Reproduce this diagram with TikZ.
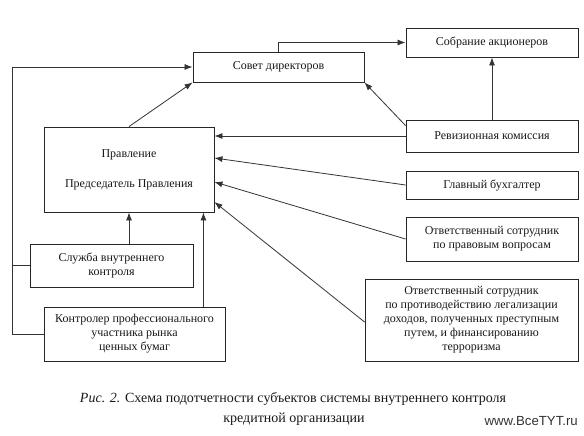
\documentclass[tikz,border=0pt]{standalone}
\usepackage{fontspec}
\setmainfont{Liberation Serif}
\newfontfamily\wmfont{Liberation Sans}
\usetikzlibrary{arrows.meta,calc}
\begin{document}
\begin{tikzpicture}[x=1pt,y=-1pt,
  box/.style={draw=black!85,line width=0.9pt,rectangle,inner sep=0pt,align=center,
     font=\fontsize{12}{14}\selectfont,text=black!90},
  conn/.style={draw=black!80,line width=0.8pt},
  arr/.style={conn,-{Latex[length=8pt,width=6pt]}},
  captext/.style={font=\fontsize{14}{16}\selectfont,text=black!90,inner sep=0pt}]
\useasboundingbox[fill=white] (0,0) rectangle (584,436);
% boxes
\node[box,minimum width=171pt,minimum height=30pt] (sovet) at (278.5,67) {Совет директоров};
\node[box,minimum width=172pt,minimum height=29pt] (sobr) at (492,42.5) {Собрание акционеров};
\node[box,minimum width=170pt,minimum height=85pt] (prav) at (129,169.5) {Правление\\[16pt]Председатель Правления};
\node[box,minimum width=172pt,minimum height=32pt] (reviz) at (492,136) {Ревизионная комиссия};
\node[box,minimum width=172pt,minimum height=28pt] (glav) at (492,185) {Главный бухгалтер};
\node[box,minimum width=172pt,minimum height=44pt] (pravov) at (492,239) {Ответственный сотрудник\\по правовым вопросам};
\node[box,minimum width=213pt,minimum height=82pt] (big) at (471.5,320) {Ответственный сотрудник\\по противодействию легализации\\доходов, полученных преступным\\путем, и финансированию\\терроризма};
\node[box,minimum width=163pt,minimum height=43pt] (sluzh) at (111.5,265.5) {Служба внутреннего\\контроля};
\node[box,minimum width=181pt,minimum height=54pt] (kontr) at (134.5,334) {Контролер профессионального\\участника рынка\\ценных бумаг};
% connectors
\coordinate (L) at (12,67);
\draw[arr] (sovet.north) |- (sobr.west);
\draw[arr] (kontr.west) -| (L) -- (sovet.west);
\draw[conn] (sluzh.west) -- (sluzh.west -| L);
\draw[arr] (prav.north) -- (sovet.south west);
\draw[arr] ([yshift=-6pt]reviz.north west) -- (sovet.south east);
\draw[arr] (reviz.north) -- (sobr.south);
\draw[arr] (reviz.west) -- (reviz.west -| prav.east);
\draw[arr] (glav.west) -- ([yshift=11.5pt]prav.east);
\draw[arr] (pravov.west) -- ([yshift=-12.5pt]prav.east);
\draw[arr] ([yshift=-2pt]big.west) -- ([yshift=-32.5pt]prav.east);
\draw[arr] (prav.south |- sluzh.north) -- (prav.south);
\coordinate (K) at ([xshift=-11pt]prav.south east);
\draw[arr] (K |- kontr.north) -- (K);
% caption
\node[captext] (cap1) at (293,399) {\textit{Рис. 2.} Схема подотчетности субъектов системы внутреннего контроля};
\node[captext] (cap2) at (294,419) {кредитной организации};
\node[font=\wmfont\fontsize{13.2}{15}\selectfont,text=black!80,anchor=east,inner sep=0pt] (wm) at (578,421) {www.BceTYT.ru};
\end{tikzpicture}
\end{document}
